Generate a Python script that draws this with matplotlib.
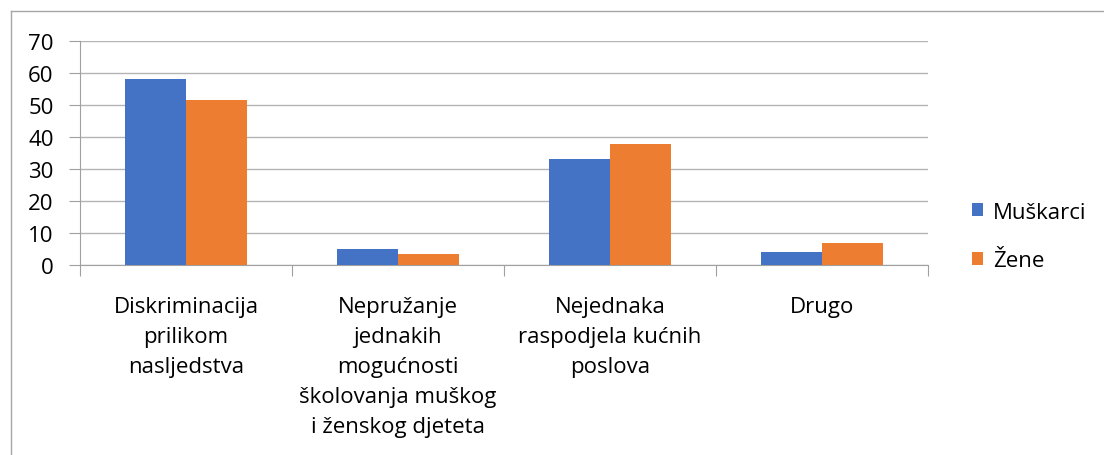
import numpy as np
import matplotlib.pyplot as plt
from matplotlib.lines import Line2D

# data
categories = ["Diskriminacija\nprilikom\nnasljedstva",
              "Nepružanje\njednakih\nmogućnosti\nškolovanja muškog\ni ženskog djeteta",
              "Nejednaka\nraspodjela kućnih\nposlova",
              "Drugo"]
muskarci = [58, 5, 33, 4]
zene = [51.6, 3.4, 37.8, 6.9]
yticks = [0, 10, 20, 30, 40, 50, 60, 70]

plt.rcParams['font.family'] = ['Open Sans', 'DejaVu Sans']
fs = 16

fig = plt.figure(figsize=(11.04, 4.56), dpi=100)
# chart border (only top and left edges are inside the picture)
fig.lines.append(Line2D([11/1104, 1.0], [1 - 12/456, 1 - 12/456], transform=fig.transFigure,
                        color='#a6a6a6', lw=1))
fig.lines.append(Line2D([11/1104, 11/1104], [0.0, 1 - 12/456], transform=fig.transFigure,
                        color='#a6a6a6', lw=1))

ax = fig.add_axes([80/1104, 1 - 266/456, 848/1104, 224/456])

x = np.arange(len(categories))
w = 0.288
ax.bar(x - w/2, muskarci, w, color='#4472c4', label='Muškarci', zorder=3)
ax.bar(x + w/2, zene, w, color='#ed7d31', label='Žene', zorder=3)

ax.set_xlim(-0.5, 3.5)
ax.set_ylim(0, 70)
ax.set_yticks(yticks)
ax.yaxis.grid(True, color='#b4b4b4', lw=1)
ax.set_axisbelow(True)
for s in ['top', 'right']:
    ax.spines[s].set_visible(False)
ax.spines['bottom'].set_color('#a0a0a0')
ax.spines['left'].set_color('#a0a0a0')
ax.tick_params(axis='y', length=8, color='#a0a0a0', labelsize=fs, pad=11)

# category ticks at boundaries, labels centred
ax.set_xticks(np.arange(-0.5, 4.0, 1.0))
ax.set_xticklabels([])
ax.tick_params(axis='x', which='major', length=8, color='#a0a0a0')
ax.set_xticks(x, minor=True)
ax.set_xticklabels(categories, minor=True, fontsize=fs, linespacing=1.57)
ax.tick_params(axis='x', which='minor', length=0, pad=22)

ax.legend(loc='center left', bbox_to_anchor=(1.052, 0.127), frameon=False,
          borderaxespad=0, borderpad=0,
          fontsize=fs, handlelength=0.5, handleheight=0.5, handletextpad=0.45,
          labelspacing=1.25)

fig.savefig('out.png', dpi=100)
